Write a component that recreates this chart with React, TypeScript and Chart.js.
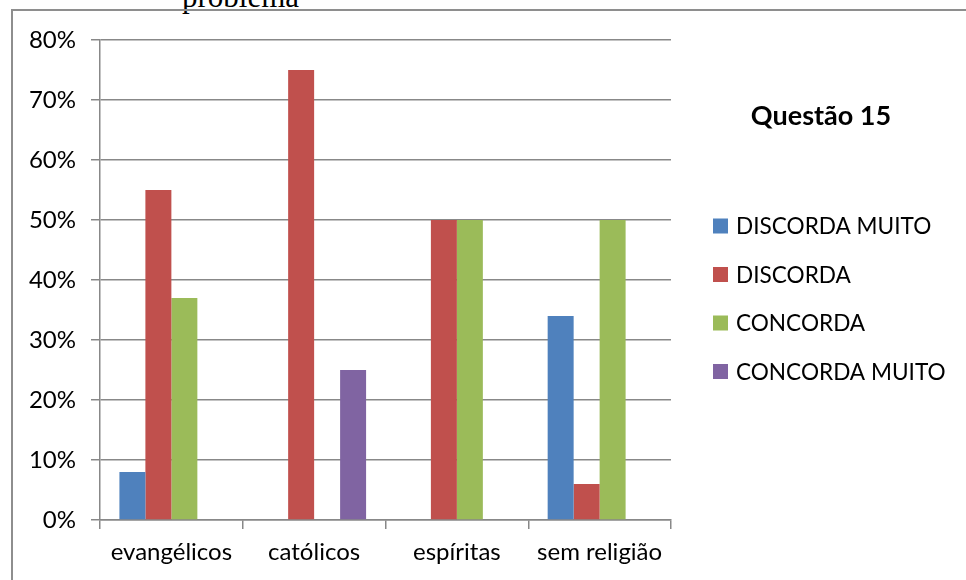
import React, { useEffect, useRef } from "react";
import { Chart, registerables } from "chart.js";

Chart.register(...registerables);

const categories = ["evangélicos", "católicos", "espíritas", "sem religião"];
const seriesNames = ["DISCORDA MUITO", "DISCORDA", "CONCORDA", "CONCORDA MUITO"];
const discordaMuito = [8, 0, 0, 34];
const discorda = [55, 75, 50, 6];
const concorda = [37, 0, 50, 50];
const concordaMuito = [0, 25, 0, 0];
const seriesColors = ["#4F81BD", "#C0504D", "#9BBB59", "#8064A2"];
const chartTitle = "Questão 15";

const FONT = "Lato, 'Liberation Sans', sans-serif";
const GRID = "#888888";

// Title and legend drawn at the right of the plot
const sideLegend = {
  id: "sideLegend",
  afterDraw(chart: any) {
    const ctx = chart.ctx;
    ctx.save();
    ctx.fillStyle = "#000";
    ctx.font = `bold 27px ${FONT}`;
    ctx.textAlign = "center";
    ctx.textBaseline = "alphabetic";
    ctx.fillText(chartTitle, 821, 125);

    ctx.font = `22.6px ${FONT}`;
    ctx.textAlign = "left";
    ctx.textBaseline = "middle";
    chart.data.datasets.forEach((ds: any, i: number) => {
      const cy = 226 + i * 48.5;
      ctx.fillStyle = ds.backgroundColor;
      ctx.fillRect(713, cy - 7.5, 15, 15);
      ctx.fillStyle = "#000";
      ctx.fillText(ds.label, 736, cy + 1);
    });
    ctx.restore();
  },
};

export default function App() {
  const ref = useRef<HTMLCanvasElement>(null);

  useEffect(() => {
    const values = [discordaMuito, discorda, concorda, concordaMuito];
    const chart = new Chart(ref.current!, {
      type: "bar",
      data: {
        labels: categories,
        datasets: seriesNames.map((name, i) => ({
          label: name,
          data: values[i],
          backgroundColor: seriesColors[i],
          borderWidth: 0,
          categoryPercentage: 0.728,
          barPercentage: 1,
        })),
      },
      options: {
        responsive: false,
        animation: false,
        layout: { padding: { left: 0, right: 295, top: 40, bottom: 0 } },
        plugins: {
          legend: { display: false },
          tooltip: { enabled: false },
          title: { display: false },
        },
        scales: {
          x: {
            offset: true,
            grid: {
              offset: true,
              drawOnChartArea: false,
              drawTicks: true,
              tickLength: 9,
              color: GRID,
              lineWidth: 1.5,
            },
            border: { display: true, color: GRID, width: 1.5 },
            ticks: {
              color: "#000",
              font: { family: FONT, size: 24 },
              padding: 9,
              maxRotation: 0,
            },
            afterFit(scale: any) {
              scale.height = 60;
            },
          },
          y: {
            min: 0,
            max: 80,
            grid: {
              color: GRID,
              lineWidth: 1.5,
              tickLength: 9,
            },
            border: { display: true, color: GRID, width: 1.5 },
            ticks: {
              stepSize: 10,
              color: "#000",
              font: { family: FONT, size: 24 },
              padding: 15,
              callback: (v: any) => `${v}%`,
            },
            afterFit(scale: any) {
              scale.width = 100;
            },
          },
        },
      },
      plugins: [sideLegend],
    });
    return () => chart.destroy();
  }, []);

  return (
    <div
      style={{
        position: "fixed",
        left: 0,
        top: 0,
        width: 966,
        height: 580,
        overflow: "hidden",
        background: "#fff",
      }}
    >
      <div
        style={{
          position: "absolute",
          left: 182,
          top: -19,
          fontFamily: "'Liberation Serif', serif",
          fontSize: 31,
          lineHeight: "31px",
          color: "#000",
          whiteSpace: "nowrap",
        }}
      >
        problema
      </div>
      <div
        style={{
          position: "absolute",
          left: 11,
          top: 9,
          width: 1000,
          height: 640,
          border: "2px solid #8e8e8e",
          boxSizing: "border-box",
        }}
      />
      <canvas
        ref={ref}
        width={966}
        height={580}
        style={{ position: "absolute", left: 0, top: 0, width: 966, height: 580 }}
      />
    </div>
  );
}
